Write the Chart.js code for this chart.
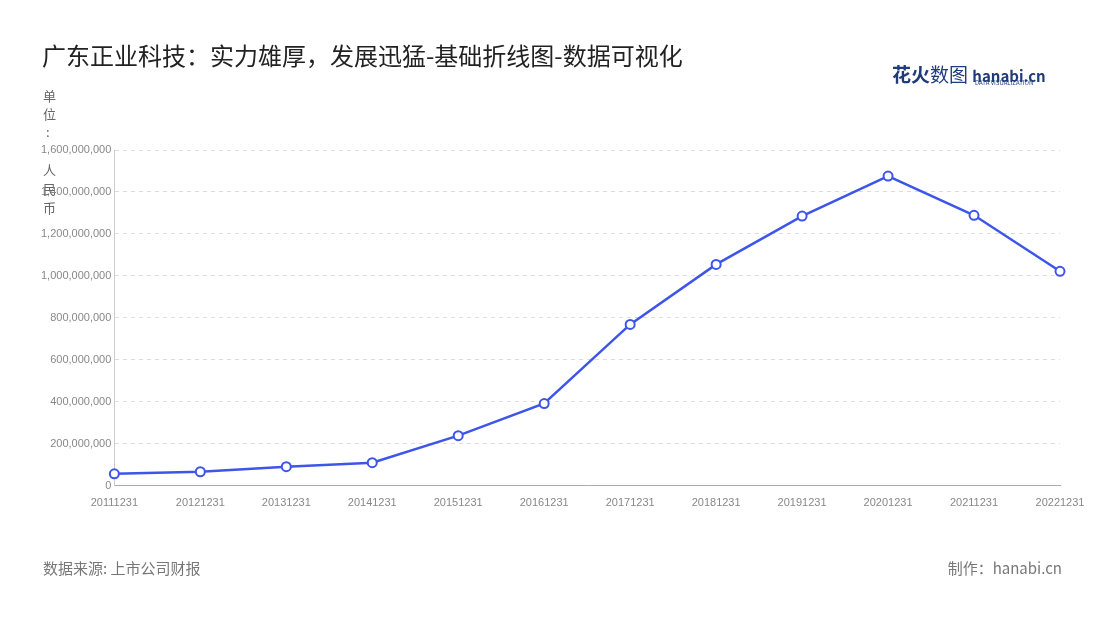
<!DOCTYPE html>
<html>
<head>
<meta charset="utf-8">
<script src="https://cdn.jsdelivr.net/npm/chart.js@4"></script>
<style>
  body { margin: 0; background: #fff; font-family: "Noto Sans CJK SC", "Noto Sans", sans-serif; }
  #wrap { position: relative; width: 1100px; height: 620px; }
  canvas { position: absolute; left: 0; top: 0; }
  .txt { position: absolute; white-space: nowrap; }
  .unit { position: absolute; left: 43px; font-size: 13px; color: #666; }
</style>
</head>
<body>
<div id="wrap">
  <canvas id="chart" width="1100" height="620"></canvas>
  <div class="txt" style="left:42px;top:37px;font-size:24px;color:#222;">广东正业科技：实力雄厚，发展迅猛-基础折线图-数据可视化</div>
  <div class="txt" style="left:892px;top:60px;font-size:19px;font-weight:bold;color:#1f3b7a;">花火<span style="font-weight:normal">数图</span> <span style="font-size:15px;color:#1f3b7a;">hanabi.cn</span></div>
  <div class="txt" style="left:975px;top:78px;font-size:6px;color:#1f3b7a;">DATA VISUALIZATION</div>
  <div class="unit" style="top:86px">单</div>
  <div class="unit" style="top:104px">位</div>
  <div class="unit" style="top:122px;left:46px">:</div>
  <div class="unit" style="top:160px">人</div>
  <div class="unit" style="top:179px">民</div>
  <div class="unit" style="top:198px">币</div>
  <div class="txt" style="left:43px;top:557px;font-size:15px;color:#777;">数据来源: 上市公司财报</div>
  <div class="txt" style="right:38px;top:557px;font-size:15px;color:#777;">制作：hanabi.cn</div>
</div>
<script>
const categories = ["20111231", "20121231", "20131231", "20141231", "20151231", "20161231",
  "20171231", "20181231", "20191231", "20201231", "20211231", "20221231"];
const revenue = [57000000, 67000000, 91000000, 110000000, 239000000, 392000000,
  769000000, 1055000000, 1285000000, 1476000000, 1289000000, 1022000000];

new Chart(document.getElementById("chart"), {
  type: "line",
  data: {
    labels: categories,
    datasets: [{
      data: revenue,
      borderColor: "#3d55e8",
      borderWidth: 2.5,
      backgroundColor: "#fff",
      pointBackgroundColor: "#fff",
      pointBorderColor: "#3d55e8",
      pointBorderWidth: 2,
      pointRadius: 4.5,
      tension: 0
    }]
  },
  options: {
    responsive: false,
    animation: false,
    layout: { padding: { left: 38, right: 40, top: 150, bottom: 107 } },
    plugins: { legend: { display: false }, tooltip: { enabled: false } },
    scales: {
      x: {
        offset: false,
        grid: { display: false },
        border: { color: "#aaa" },
        ticks: { color: "#888", font: { size: 11 }, maxRotation: 0, autoSkip: false }
      },
      y: {
        min: 0, max: 1600000000,
        ticks: { stepSize: 200000000, color: "#888", font: { size: 11 },
          callback: v => v.toLocaleString("en-US") },
        grid: { color: "#ddd", drawTicks: false },
        border: { display: true, color: "#ccc", dash: [4, 4] }
      }
    }
  }
});
</script>
</body>
</html>
